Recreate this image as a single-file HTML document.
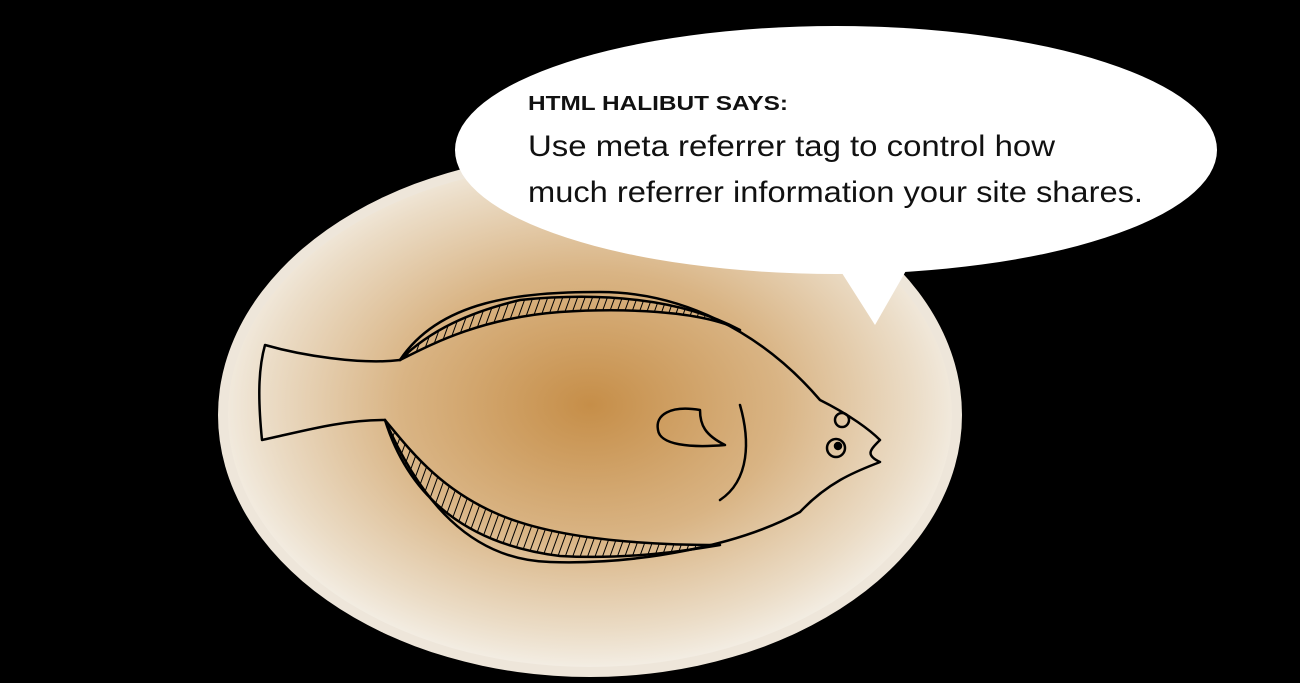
<!DOCTYPE html>
<html><head><meta charset="utf-8"><style>
html,body{margin:0;padding:0;background:#000;width:1300px;height:683px;overflow:hidden}
svg{display:block}
</style></head><body>
<svg width="1300" height="683" viewBox="0 0 1300 683" xmlns="http://www.w3.org/2000/svg">
<defs>
<radialGradient id="g" cx="590" cy="405" r="380" gradientUnits="userSpaceOnUse" gradientTransform="translate(590 405) scale(1 0.7) translate(-590 -405)">
<stop offset="0" stop-color="#c68e48"/>
<stop offset="0.5" stop-color="#d9b484"/>
<stop offset="0.85" stop-color="#ebdcc6"/>
<stop offset="1" stop-color="#f4efe6"/>
</radialGradient>
<pattern id="h" width="7" height="7" patternUnits="userSpaceOnUse" patternTransform="rotate(20)">
<line x1="0" y1="0" x2="0" y2="7" stroke="#000" stroke-width="2"/>
</pattern>
</defs>
<ellipse cx="590" cy="415" rx="372" ry="262" fill="#eee6da"/>
<ellipse cx="590" cy="415" rx="362" ry="252" fill="url(#g)"/>
<g fill="none" stroke="#000" stroke-width="2.5" stroke-linejoin="round" stroke-linecap="round">
<path d="M400 360 C440 300 520 292 600 292 C680 292 760 330 820 400 C850 415 870 430 880 440 C870 450 865 455 880 462 C860 470 830 480 800 512 C740 545 640 565 550 562 C470 560 420 500 385 420" />
<path d="M400 360 C360 365 300 355 265 345 C258 370 258 400 262 440 C300 432 340 420 385 420"/>
<path d="M400 360 C430 330 470 312 520 300 C600 292 680 298 740 330 C700 310 620 308 560 312 C480 318 430 345 400 360Z" fill="url(#h)"/>
<path d="M385 420 C410 500 470 545 560 556 C630 560 690 550 720 545 C650 545 560 540 500 515 C440 490 410 450 385 420Z" fill="url(#h)"/>
<path d="M700 410 C670 405 655 415 658 430 C660 445 690 448 725 445 C705 435 700 425 700 410Z"/>
<path d="M740 405 C750 440 750 480 720 500"/>
<circle cx="842" cy="420" r="7"/>
<circle cx="836" cy="448" r="9"/>
<circle cx="838" cy="446" r="3" fill="#000"/>
</g>
<path d="M840 270 L875 325 L915 255 Z" fill="#fff"/>
<ellipse cx="836" cy="150" rx="381" ry="124" fill="#fff"/>
<text x="528" y="110" font-family="Liberation Sans, sans-serif" font-weight="bold" font-size="20" fill="#111" textLength="260" lengthAdjust="spacingAndGlyphs">HTML HALIBUT SAYS:</text>
<text x="528" y="156" font-family="Liberation Sans, sans-serif" font-size="30" fill="#111" textLength="527" lengthAdjust="spacingAndGlyphs">Use meta referrer tag to control how</text>
<text x="528" y="202" font-family="Liberation Sans, sans-serif" font-size="30" fill="#111" textLength="615" lengthAdjust="spacingAndGlyphs">much referrer information your site shares.</text>
</svg>
</body></html>
